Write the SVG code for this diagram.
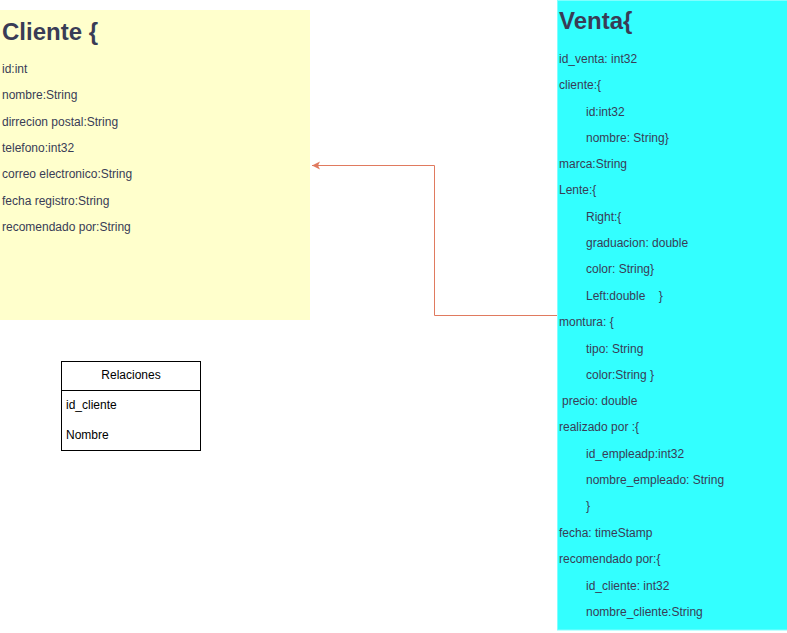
<svg xmlns="http://www.w3.org/2000/svg" width="787" height="633" viewBox="0 0 787 633">
<style>
.t{font-family:"Liberation Sans",Arial,sans-serif;font-size:12px;fill:#393C56}
.h{font-family:"Liberation Sans",Arial,sans-serif;font-size:24px;font-weight:bold;fill:#393C56}
.r{font-family:"Liberation Sans",Arial,sans-serif;font-size:12px;fill:#000}
</style>
<defs>
<marker id="arr" markerWidth="10" markerHeight="10" refX="9" refY="5" orient="auto" markerUnits="userSpaceOnUse">
<path d="M1,1 L9,5 L1,9 L3,5 Z" fill="#E07A5F"/>
</marker>
</defs>
<rect width="787" height="633" fill="#fff"/>
<g id="cliente">
<rect x="0" y="10" width="310" height="310" fill="#FFFFCC"/>
<text class="h" x="2" y="40">Cliente {</text>
<text class="t" x="2" y="73">id:int</text>
<text class="t" x="2" y="99">nombre:String</text>
<text class="t" x="2" y="126">dirrecion postal:String</text>
<text class="t" x="2" y="152">telefono:int32</text>
<text class="t" x="2" y="178">correo electronico:String</text>
<text class="t" x="2" y="205">fecha registro:String</text>
<text class="t" x="2" y="231">recomendado por:String</text>
</g>
<g id="venta">
<rect x="557.5" y="0.5" width="230" height="629.5" fill="#33FFFF" stroke="#80FFFF" stroke-width="1"/>
<text class="h" x="559" y="29">Venta{</text>
<text class="t" x="559" y="63">id_venta: int32</text>
<text class="t" x="559" y="89">cliente:{</text>
<text class="t" x="586" y="116">id:int32</text>
<text class="t" x="586" y="142">nombre: String}</text>
<text class="t" x="559" y="168">marca:String</text>
<text class="t" x="559" y="194">Lente:{</text>
<text class="t" x="586" y="221">Right:{</text>
<text class="t" x="586" y="247">graduacion: double</text>
<text class="t" x="586" y="273">color: String}</text>
<text class="t" x="586" y="300" xml:space="preserve">Left:double    }</text>
<text class="t" x="559" y="326">montura: {</text>
<text class="t" x="586" y="353">tipo: String</text>
<text class="t" x="586" y="379">color:String }</text>
<text class="t" x="562" y="405">precio: double</text>
<text class="t" x="559" y="431">realizado por :{</text>
<text class="t" x="586" y="458">id_empleadp:int32</text>
<text class="t" x="586" y="484">nombre_empleado: String</text>
<text class="t" x="586" y="510">}</text>
<text class="t" x="559" y="537">fecha: timeStamp</text>
<text class="t" x="559" y="563">recomendado por:{</text>
<text class="t" x="586" y="590">id_cliente: int32</text>
<text class="t" x="586" y="616">nombre_cliente:String</text>
</g>
<g id="relaciones">
<rect x="61.5" y="361.5" width="139" height="89" fill="#fff" stroke="#000" stroke-width="1"/>
<line x1="61.5" y1="390.5" x2="200.5" y2="390.5" stroke="#000" stroke-width="1"/>
<text class="r" x="131" y="379" text-anchor="middle">Relaciones</text>
<text class="r" x="66" y="409">id_cliente</text>
<text class="r" x="66" y="439">Nombre</text>
</g>
<g id="connectors">
<path d="M557,315.5 H434.5 V165.5 H312" fill="none" stroke="#E07A5F" stroke-width="1" marker-end="url(#arr)"/>
</g>
</svg>
